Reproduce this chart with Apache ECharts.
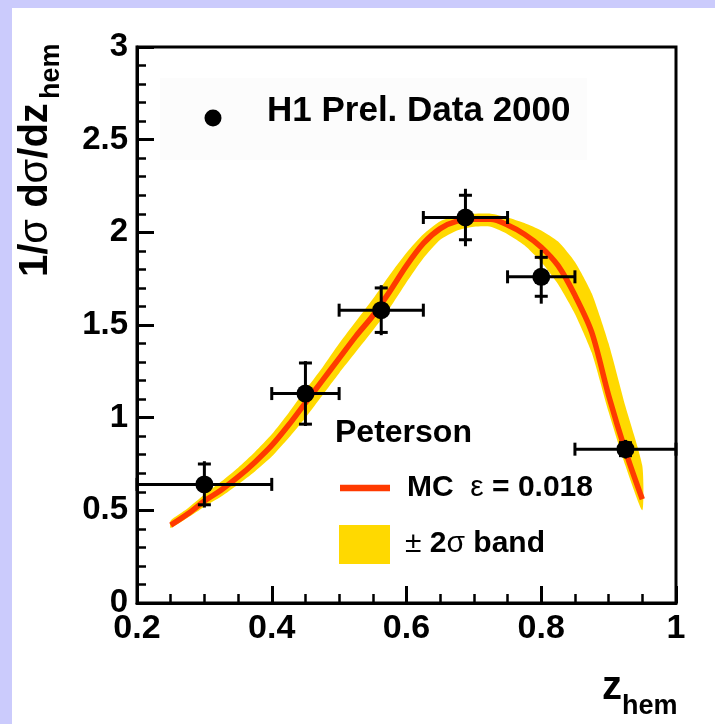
<!DOCTYPE html>
<html>
<head>
<meta charset="utf-8">
<script src="https://cdn.jsdelivr.net/npm/echarts@6/dist/echarts.min.js"></script>
<style>
  html, body { margin: 0; padding: 0; background: #ffffff; }
  #chart { width: 715px; height: 724px; }
</style>
</head>
<body>
<div id="chart"></div>
<script>
// H1 preliminary data 2000: bin centres in z_hem and normalised cross section
const dataZ   = [0.3, 0.45, 0.5625, 0.6875, 0.8, 0.925];
const dataY   = [0.64, 1.13, 1.58, 2.08, 1.76, 0.83];
const binLow  = [0.2, 0.4, 0.5, 0.625, 0.75, 0.85];
const binHigh = [0.4, 0.5, 0.625, 0.75, 0.85, 1.0];
const statErr = [0.11, 0.165, 0.12, 0.12, 0.105, 0.035];
const totErr  = [0.125, 0.175, 0.135, 0.155, 0.145, 0.05];

// Peterson fragmentation MC (epsilon = 0.018) and its ±2 sigma band
const mcZ = [0.25, 0.275, 0.3, 0.325, 0.35, 0.375, 0.4, 0.425, 0.45, 0.475,
             0.5, 0.525, 0.55, 0.575, 0.6, 0.625, 0.65, 0.675, 0.7, 0.725,
             0.75, 0.775, 0.8, 0.825, 0.85, 0.875, 0.9, 0.925, 0.95];
const mcY = [0.42, 0.48, 0.55, 0.61, 0.68, 0.76, 0.85, 0.96, 1.08, 1.20,
             1.32, 1.44, 1.55, 1.68, 1.82, 1.94, 2.02, 2.06, 2.07, 2.07,
             2.04, 1.99, 1.92, 1.82, 1.66, 1.46, 1.12, 0.82, 0.56];
const bandLow  = [0.405, 0.46, 0.52, 0.575, 0.64, 0.71, 0.79, 0.89, 1.00, 1.12,
                  1.24, 1.355, 1.47, 1.59, 1.73, 1.86, 1.96, 2.01, 2.03, 2.03,
                  1.99, 1.93, 1.84, 1.72, 1.56, 1.35, 1.03, 0.74, 0.50];
const bandHigh = [0.445, 0.51, 0.585, 0.655, 0.73, 0.815, 0.91, 1.025, 1.15, 1.27,
                  1.40, 1.52, 1.64, 1.77, 1.89, 1.99, 2.06, 2.09, 2.10, 2.10,
                  2.08, 2.05, 2.01, 1.95, 1.84, 1.67, 1.40, 1.06, 0.74];

const xTicks = [0.2, 0.4, 0.6, 0.8, 1];
const yTicks = [0, 0.5, 1, 1.5, 2, 2.5, 3];

const FONT = "'Liberation Sans', Arial, Helvetica, sans-serif";
const RED = '#ff3a00';
const YELLOW = '#ffd900';

const chart = echarts.init(document.getElementById('chart'), null, { renderer: 'canvas' });

const axisLabel = (size, margin) => ({
  color: '#000', fontFamily: FONT, fontWeight: 'bold', fontSize: size, margin: margin
});

const option = {
  backgroundColor: '#ffffff',
  animation: false,
  grid: {
    left: 137, right: 39, top: 47, bottom: 121,
    show: true, borderColor: '#000', borderWidth: 3, backgroundColor: 'transparent'
  },
  xAxis: {
    type: 'value',
    min: xTicks[0], max: xTicks[xTicks.length - 1], interval: xTicks[1] - xTicks[0],
    axisLine: { show: true, onZero: false, lineStyle: { color: '#000', width: 3 } },
    axisTick: { show: true, inside: true, length: 17, lineStyle: { color: '#000', width: 3 } },
    minorTick: { show: true, splitNumber: 4, length: 9, lineStyle: { color: '#000', width: 2.5 } },
    splitLine: { show: false },
    axisLabel: Object.assign(axisLabel(34, 9), {
      formatter: v => String(xTicks.find(t => Math.abs(t - v) < 1e-9) ?? v)
    })
  },
  yAxis: {
    type: 'value',
    min: yTicks[0], max: yTicks[yTicks.length - 1], interval: yTicks[1] - yTicks[0],
    axisLine: { show: true, onZero: false, lineStyle: { color: '#000', width: 3 } },
    axisTick: { show: true, inside: true, length: 17, lineStyle: { color: '#000', width: 3 } },
    minorTick: { show: true, splitNumber: 5, length: 9, lineStyle: { color: '#000', width: 2.5 } },
    splitLine: { show: false },
    axisLabel: Object.assign(axisLabel(33, 9), {
      formatter: v => String(yTicks.find(t => Math.abs(t - v) < 1e-9) ?? v)
    })
  },
  graphic: [
    // frame colour strips
    { type: 'rect', z: 0, shape: { x: 0, y: 0, width: 12, height: 724 }, style: { fill: '#cbcbfc' } },
    { type: 'rect', z: 0, shape: { x: 0, y: 0, width: 715, height: 8 }, style: { fill: '#cbcbfc' } },
    // data legend box
    { type: 'rect', z: 0, shape: { x: 160, y: 78, width: 427, height: 82 }, style: { fill: '#fcfcfc' } },
    { type: 'circle', z: 10, shape: { cx: 213, cy: 118, r: 8.5 }, style: { fill: '#000' } },
    { type: 'text', z: 10, x: 267, y: 111.5,
      style: { text: 'H1 Prel. Data 2000', fill: '#000', font: 'bold 35px ' + FONT,
               align: 'left', verticalAlign: 'middle', textAlign: 'left', textVerticalAlign: 'middle' } },
    // model legend
    { type: 'text', z: 10, x: 335, y: 433,
      style: { text: 'Peterson', fill: '#000', font: 'bold 32px ' + FONT,
               align: 'left', verticalAlign: 'middle', textAlign: 'left', textVerticalAlign: 'middle' } },
    { type: 'line', z: 10, shape: { x1: 340, y1: 488, x2: 390, y2: 488 }, style: { stroke: RED, lineWidth: 6.5 } },
    { type: 'text', z: 10, x: 407, y: 488,
      style: {
        text: '{b|MC  }{s|ε}{b| = 0.018}', fill: '#000',
        align: 'left', verticalAlign: 'middle', textAlign: 'left', textVerticalAlign: 'middle',
        rich: {
          b: { fontFamily: FONT, fontWeight: 'bold', fontSize: 30, fill: '#000', color: '#000' },
          s: { fontFamily: FONT, fontWeight: 'normal', fontSize: 30, fill: '#000', color: '#000' }
        }
      } },
    { type: 'rect', z: 10, shape: { x: 339, y: 525, width: 51, height: 39 }, style: { fill: YELLOW } },
    { type: 'text', z: 10, x: 405, y: 544,
      style: {
        text: '{s|±}{b| 2}{s|σ}{b| band}', fill: '#000',
        align: 'left', verticalAlign: 'middle', textAlign: 'left', textVerticalAlign: 'middle',
        rich: {
          b: { fontFamily: FONT, fontWeight: 'bold', fontSize: 30, fill: '#000', color: '#000' },
          s: { fontFamily: FONT, fontWeight: 'normal', fontSize: 30, fill: '#000', color: '#000' }
        }
      } },
    // y axis title, reading bottom to top
    { type: 'text', z: 10, x: 36, y: 277, rotation: Math.PI / 2,
      style: {
        text: '{b|1/}{s|σ}{b| d}{s|σ}{b|/dz}', fill: '#000',
        align: 'left', verticalAlign: 'middle', textAlign: 'left', textVerticalAlign: 'middle',
        rich: {
          b: { fontFamily: FONT, fontWeight: 'bold', fontSize: 40, fill: '#000', color: '#000' },
          s: { fontFamily: FONT, fontWeight: 'normal', fontSize: 40, fill: '#000', color: '#000' }
        }
      } },
    { type: 'text', z: 10, x: 52, y: 99, rotation: Math.PI / 2,
      style: { text: 'hem', fill: '#000', font: 'bold 27px ' + FONT,
               align: 'left', verticalAlign: 'middle', textAlign: 'left', textVerticalAlign: 'middle' } },
    // x axis title
    { type: 'text', z: 10, x: 602, y: 688,
      style: { text: 'z', fill: '#000', font: 'bold 40px ' + FONT,
               align: 'left', verticalAlign: 'middle', textAlign: 'left', textVerticalAlign: 'middle' } },
    { type: 'text', z: 10, x: 622, y: 707,
      style: { text: 'hem', fill: '#000', font: 'bold 27px ' + FONT,
               align: 'left', verticalAlign: 'middle', textAlign: 'left', textVerticalAlign: 'middle' } }
  ],
  series: [
    {
      // ±2 sigma band as a filled polygon
      type: 'custom',
      z: 2,
      silent: true,
      data: [[mcZ[0], bandLow[0]]],
      renderItem: (params, api) => {
        const pts = [];
        for (let i = 0; i < mcZ.length; i++) pts.push(api.coord([mcZ[i], bandHigh[i]]));
        for (let i = mcZ.length - 1; i >= 0; i--) pts.push(api.coord([mcZ[i], bandLow[i]]));
        return { type: 'polygon', shape: { points: pts, smooth: 0.2 }, style: { fill: YELLOW, stroke: null } };
      }
    },
    {
      type: 'line',
      z: 3,
      data: mcZ.map((z, i) => [z, mcY[i]]),
      smooth: 0.3,
      showSymbol: false,
      silent: true,
      lineStyle: { color: RED, width: 5.5 }
    },
    {
      // horizontal bin widths, total error lines and statistical error bars
      type: 'custom',
      z: 4,
      silent: true,
      data: dataZ.map((z, i) => [z, dataY[i], binLow[i], binHigh[i], statErr[i], totErr[i]]),
      encode: { x: 0, y: 1 },
      renderItem: (params, api) => {
        const z = api.value(0), y = api.value(1);
        const lo = api.value(2), hi = api.value(3), se = api.value(4), te = api.value(5);
        const l = api.coord([lo, y]), r = api.coord([hi, y]);
        const tt = api.coord([z, y + te]), tb = api.coord([z, y - te]);
        const st = api.coord([z, y + se]), sb = api.coord([z, y - se]);
        const cap = 6.5;
        const s = { stroke: '#000', lineWidth: 3 };
        const seg = (x1, y1, x2, y2) => ({ type: 'line', shape: { x1, y1, x2, y2 }, style: s });
        return {
          type: 'group',
          children: [
            seg(l[0], l[1], r[0], r[1]),
            seg(l[0], l[1] - cap, l[0], l[1] + cap),
            seg(r[0], r[1] - cap, r[0], r[1] + cap),
            seg(tt[0], tt[1], tb[0], tb[1]),
            seg(st[0] - cap, st[1], st[0] + cap, st[1]),
            seg(sb[0] - cap, sb[1], sb[0] + cap, sb[1])
          ]
        };
      }
    },
    {
      type: 'scatter',
      z: 5,
      data: dataZ.map((z, i) => [z, dataY[i]]),
      symbol: 'circle',
      symbolSize: 18,
      itemStyle: { color: '#000', opacity: 1 },
      silent: true
    }
  ]
};

chart.setOption(option);
</script>
</body>
</html>
